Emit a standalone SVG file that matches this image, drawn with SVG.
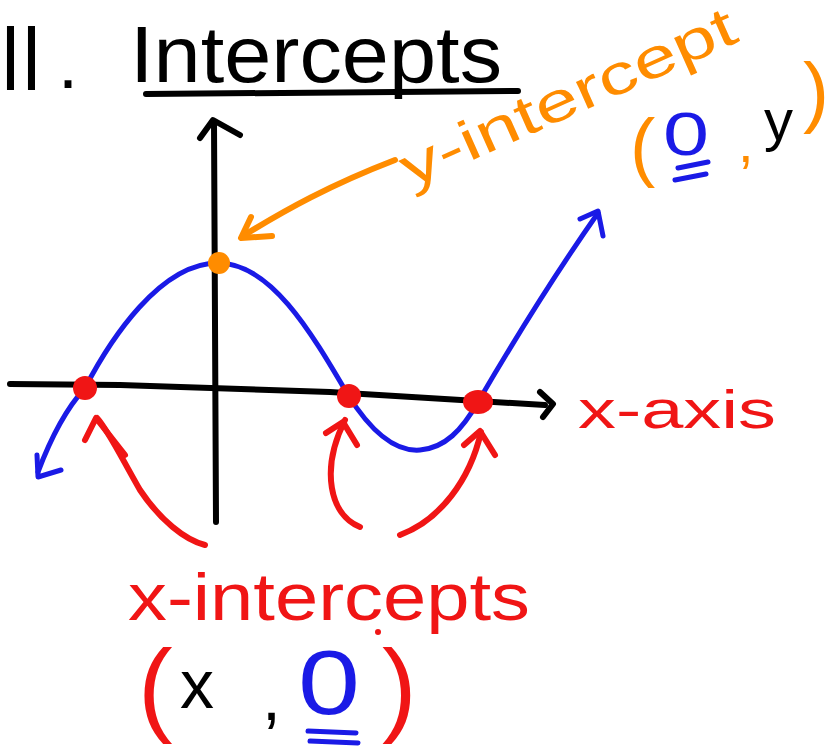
<svg xmlns="http://www.w3.org/2000/svg" width="834" height="749" viewBox="0 0 834 749">
<style>
.s{fill:none;stroke-linecap:round;stroke-linejoin:round}
.k{stroke:#000;stroke-width:6}
.b{stroke:#1a1ae6;stroke-width:5}
.r{stroke:#f01515;stroke-width:6}
.o{stroke:#ff8c00;stroke-width:6}
.t{font-family:"Liberation Sans","DejaVu Sans",sans-serif}
</style>
<rect width="834" height="749" fill="#fff"/>
<g id="title">
<text class="t" x="0" y="90" font-size="92" textLength="42" lengthAdjust="spacingAndGlyphs">II</text>
<text class="t" x="58" y="88" font-size="72">.</text>
<text class="t" x="130" y="82" font-size="80" textLength="372" lengthAdjust="spacingAndGlyphs">Intercepts</text>
<path class="s k" d="M146,94 L518,91"/>
</g>
<g id="axes">
<path class="s k" d="M214,122 L216,522"/>
<path class="s k" d="M200,138 L213,120 L240,135"/>
<path class="s k" d="M10,384 L120,385 L330,392 L545,405"/>
<path class="s k" d="M540,392 L553,404 L543,417"/>
</g>
<g id="curve">
<path class="s b" d="M38,472 C50,440 65,410 85,388 C110,340 160,263 218,263 C270,263 310,330 348,395 C370,430 395,452 420,450 C445,448 462,430 478,402 C520,330 565,260 598,213"/>
<path class="s b" d="M37,455 L38,477 L61,470"/>
<path class="s b" d="M580,219 L598,211 L603,236"/>
</g>
<g id="points">
<circle cx="219" cy="263" r="11" fill="#ff8c00"/>
<circle cx="85" cy="388" r="12" fill="#f01515"/>
<circle cx="349" cy="396" r="12" fill="#f01515"/>
<ellipse cx="478" cy="402" rx="15" ry="12" fill="#f01515"/>
</g>
<g id="connectors">
<path class="s o" d="M395,160 C330,185 285,210 243,236"/>
<path class="s o" d="M251,217 L241,238 L272,236"/>
<path class="s r" d="M205,545 C185,540 160,520 140,490 C120,455 108,430 97,418"/>
<path class="s r" d="M85,440 L96,418 L125,455"/>
<path class="s r" d="M360,527 C330,515 320,470 345,420"/>
<path class="s r" d="M326,433 L343,422 L357,445"/>
<path class="s r" d="M400,535 C440,520 470,480 481,432"/>
<path class="s r" d="M464,445 L480,431 L495,455"/>
</g>
<g id="y-intercept-label">
<text class="t" x="410" y="188" font-size="56" fill="#ff8c00" transform="rotate(-24 410 188)" textLength="362" lengthAdjust="spacingAndGlyphs">y-intercept</text>
<text class="t" x="630" y="172" font-size="76" fill="#ff8c00">(</text>
<text class="t" x="663" y="155" font-size="62" fill="#1a1ae6" textLength="46" lengthAdjust="spacingAndGlyphs">0</text>
<path class="s b" d="M678,168 L708,162 M675,180 L706,174"/>
<text class="t" x="738" y="162" font-size="56" fill="#ff8c00">,</text>
<text class="t" x="764" y="140" font-size="58" fill="#000">y</text>
<text class="t" x="803" y="118" font-size="78" fill="#ff8c00">)</text>
</g>
<g id="x-axis-label">
<text class="t" x="578" y="428" font-size="54" fill="#f01515" textLength="198" lengthAdjust="spacingAndGlyphs">x-axis</text>
</g>
<g id="x-intercepts-label">
<text class="t" x="128" y="620" font-size="66" fill="#f01515" textLength="402" lengthAdjust="spacingAndGlyphs">x-intercepts</text>
<circle cx="378" cy="632" r="3" fill="#f01515"/>
<text class="t" x="138" y="722" font-size="104" fill="#f01515">(</text>
<text class="t" x="180" y="708" font-size="68" fill="#000">x</text>
<text class="t" x="262" y="720" font-size="68" fill="#000">,</text>
<text class="t" x="298" y="714" font-size="90" fill="#1a1ae6" textLength="62" lengthAdjust="spacingAndGlyphs">0</text>
<path class="s b" d="M308,731 L356,733 M310,741 L358,743"/>
<text class="t" x="382" y="722" font-size="104" fill="#f01515">)</text>
</g>
</svg>
